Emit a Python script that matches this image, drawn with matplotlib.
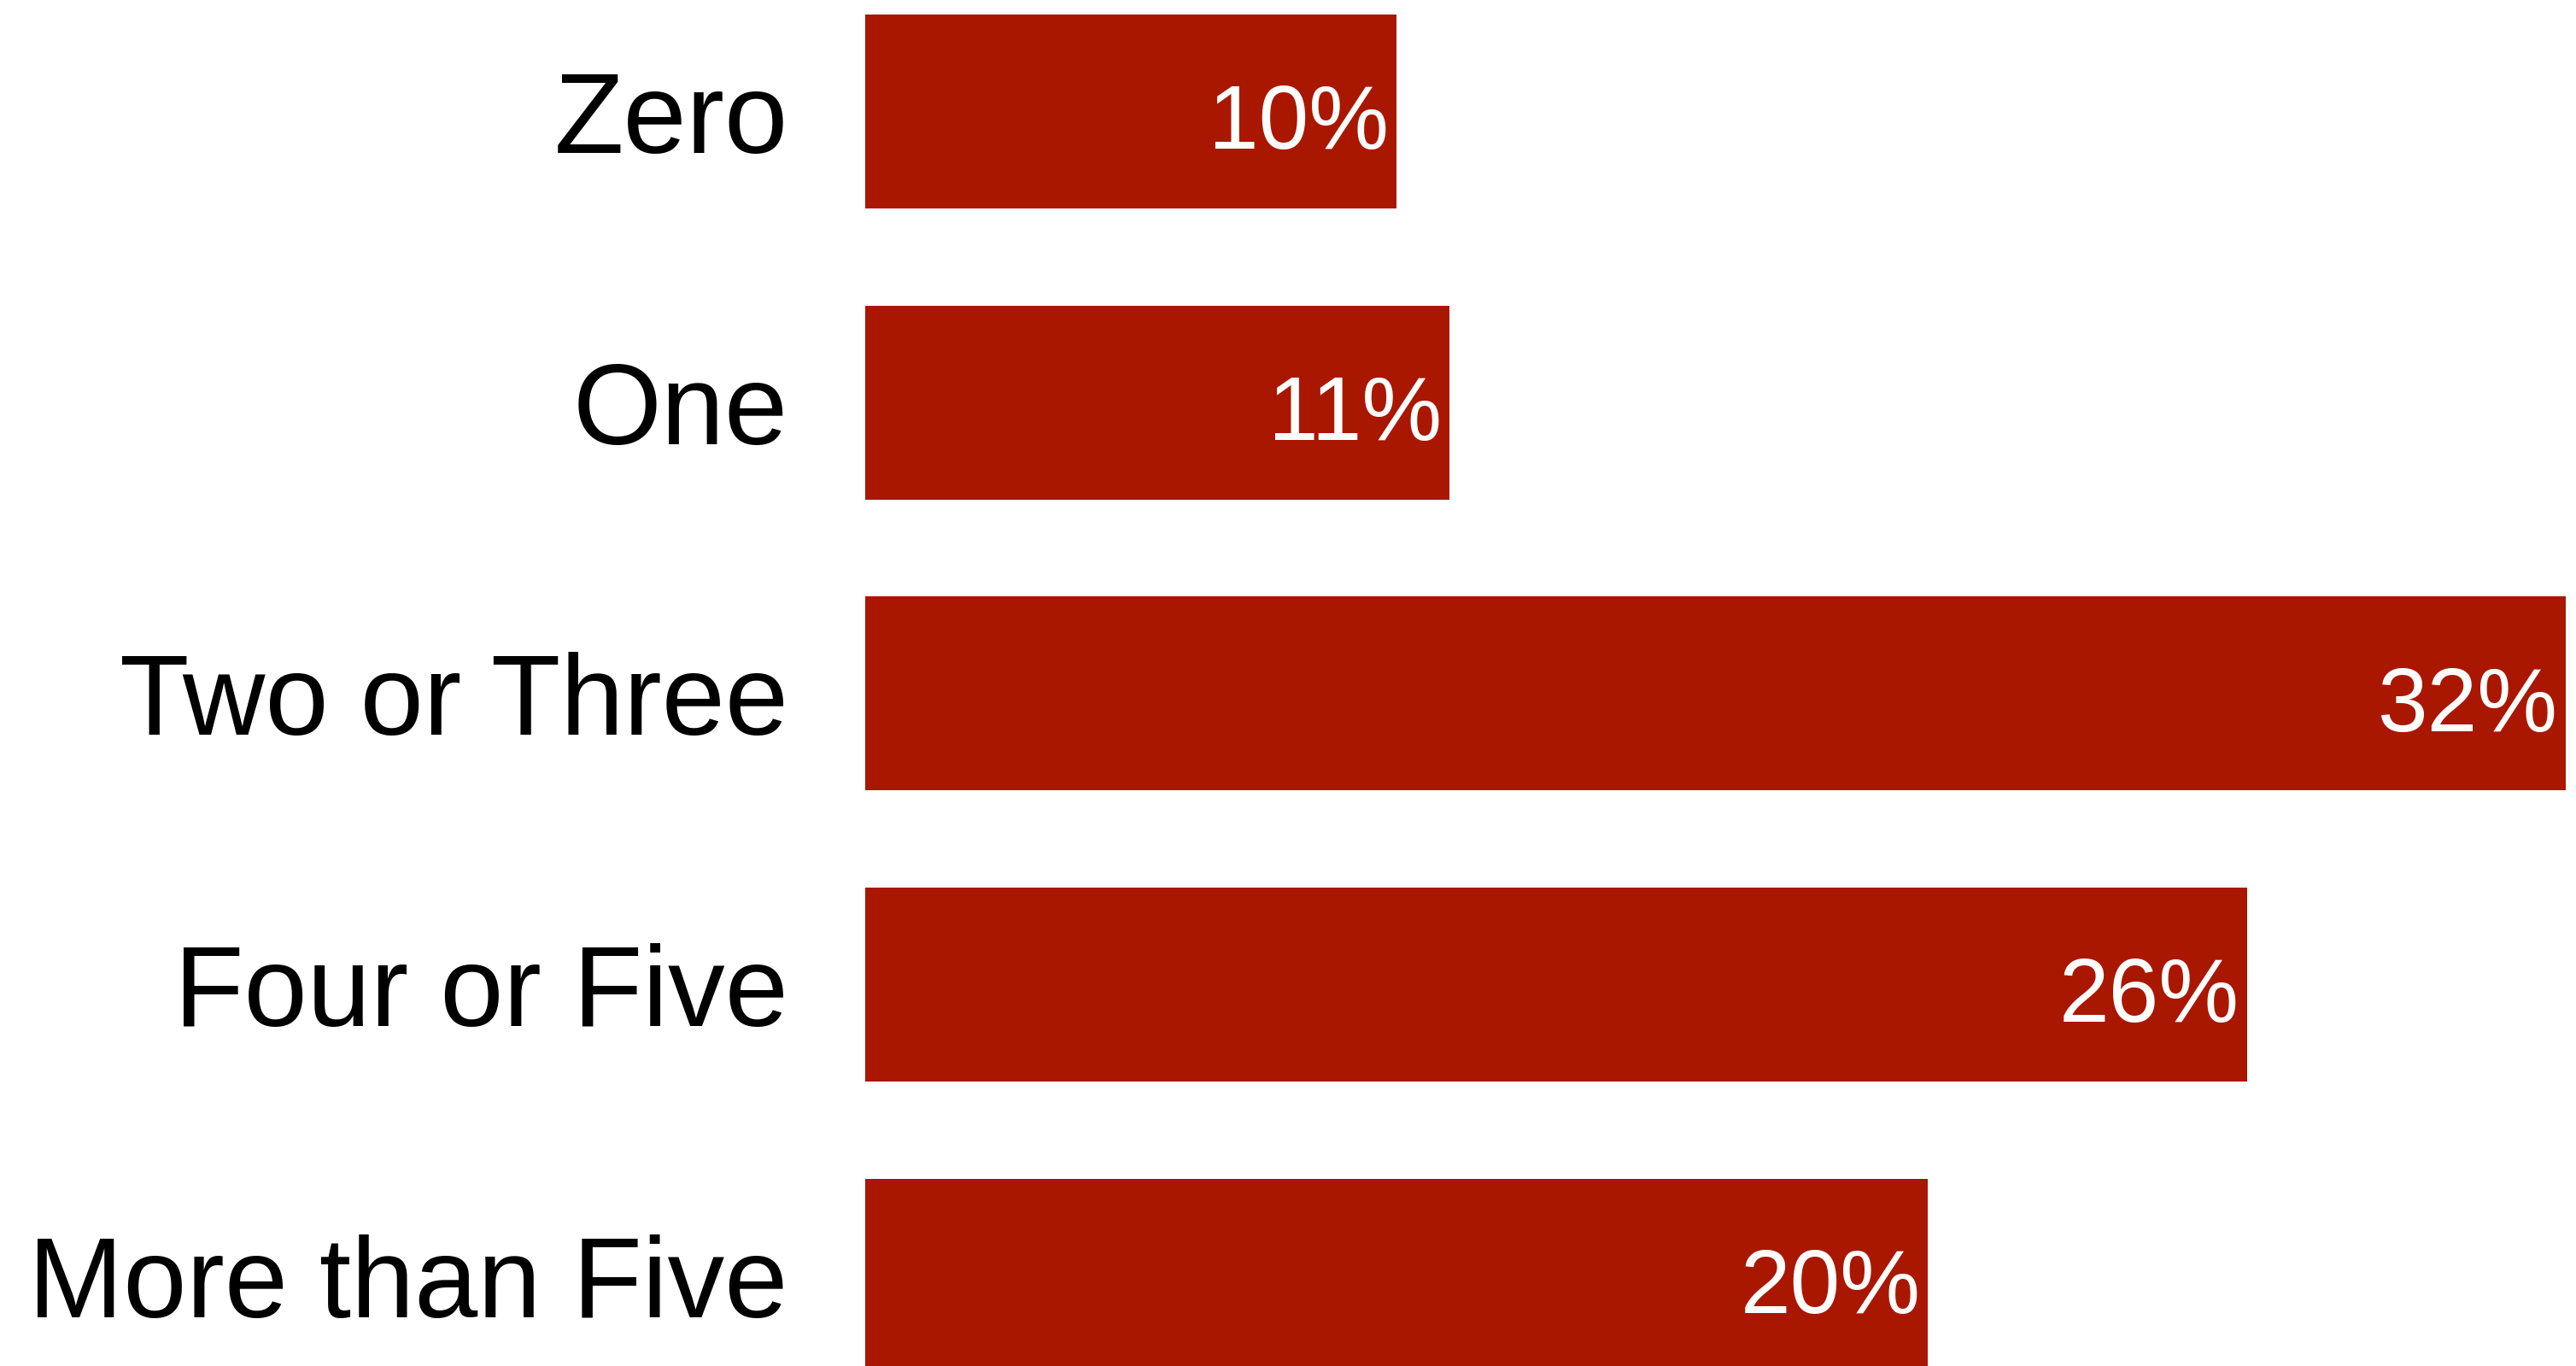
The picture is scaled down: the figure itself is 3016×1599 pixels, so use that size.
import matplotlib
matplotlib.use("Agg")
import matplotlib.pyplot as plt

# Datos
categories = ["Zero", "One", "Two or Three", "Four or Five", "More than Five"]
values = [10, 11, 32, 26, 20]
value_labels = ["10%", "11%", "32%", "26%", "20%"]

plt.rcParams["font.family"] = ["Liberation Sans", "DejaVu Sans"]

fig = plt.figure(figsize=(30.16, 15.99), dpi=100)
ax = fig.add_axes([1013 / 3016, 0.0, 1 - 1013 / 3016, 1.0])

y = list(range(len(categories)))
ax.barh(y, values, height=0.666, color="#aa1700")

# Etiquetas dentro de las barras
for yi, v, lab in zip(y, values, value_labels):
    ax.annotate(lab, (v, yi), xytext=(-9, -44), textcoords="offset pixels",
                ha="right", va="baseline", color="white", fontsize=76)

ax.set_xlim(0, 32.19)
ax.set_ylim(4.311, -0.383)
ax.set_yticks(y)
ax.set_yticklabels(categories, fontsize=96)
ax.tick_params(axis="y", length=0, pad=65)
ax.set_xticks([])
for s in ax.spines.values():
    s.set_visible(False)

fig.savefig("out.png", dpi=100)
